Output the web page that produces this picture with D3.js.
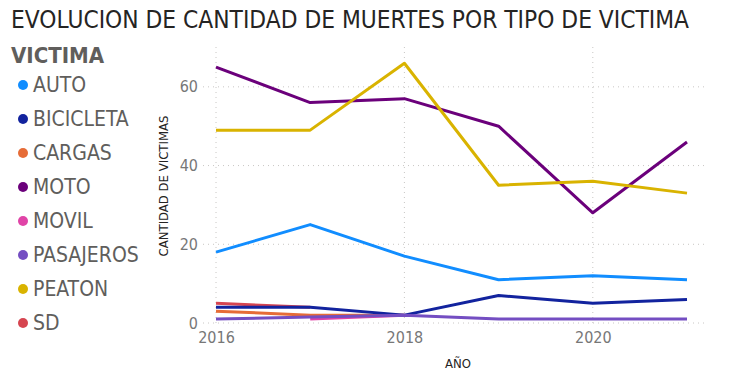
<!DOCTYPE html>
<html>
<head>
<meta charset="utf-8">
<script src="https://cdn.jsdelivr.net/npm/d3@7"></script>
<style>
	body { margin: 0; background: #fff; }
	text { font-family: "DejaVu Sans Condensed", "DejaVu Sans", sans-serif; }
</style>
</head>
<body>
<script>
let years = [2016, 2017, 2018, 2019, 2020, 2021]
let victimas = ["AUTO", "BICICLETA", "CARGAS", "MOTO", "MOVIL", "PASAJEROS", "PEATON", "SD"]
let colors = ["#118DFF", "#12239E", "#E66C37", "#6B007B", "#E044A7", "#744EC2", "#D9B300", "#D64550"]

let auto = [18, 25, 17, 11, 12, 11]
let bicicleta = [4, 4, 2, 7, 5, 6]
let cargas = [3, 2, 2, null, null, null]
let moto = [65, 56, 57, 50, 28, 46]
let movil = [null, 1, 2, null, null, null]
let pasajeros = [1, 1.5, 2, 1, 1, 1]
let peaton = [49, 49, 66, 35, 36, 33]
let sd = [5, 4, null, null, null, null]

let yTicks = [0, 20, 40, 60]
let xTicks = [2016, 2018, 2020]

let seriesValues = [auto, bicicleta, cargas, moto, movil, pasajeros, peaton, sd]
// draw order: small ones behind, as in the picture
let drawOrder = ["MOTO", "PEATON", "AUTO", "MOVIL", "CARGAS", "SD", "BICICLETA", "PASAJEROS"]

let width = 741, height = 376
let svg = d3.select("body").append("svg").attr("width", width).attr("height", height)

let x = d3.scaleLinear().domain([2016, 2021]).range([216, 687])
let y = d3.scaleLinear().domain([0, 70]).range([323, 47.5])

// title
svg.append("text").attr("x", 11).attr("y", 28)
	.attr("font-size", 24).attr("fill", "#252423")
	.attr("textLength", 678).attr("lengthAdjust", "spacingAndGlyphs")
	.text("EVOLUCION DE CANTIDAD DE MUERTES POR TIPO DE VICTIMA")

// legend
svg.append("text").attr("x", 11).attr("y", 63)
	.attr("font-size", 22).attr("font-weight", "bold").attr("fill", "#605E5C")
	.text("VICTIMA")
let leg = svg.selectAll(".leg").data(victimas).enter().append("g")
	.attr("transform", (d, i) => `translate(0, ${85 + i * 34})`)
leg.append("circle").attr("cx", 23).attr("cy", 0).attr("r", 5)
	.attr("fill", (d, i) => colors[i])
leg.append("text").attr("x", 33).attr("y", 7)
	.attr("font-size", 21).attr("fill", "#605E5C").text(d => d)

// grid
svg.selectAll(".hg").data(yTicks).enter().append("line")
	.attr("x1", 203).attr("x2", 705).attr("y1", d => y(d)).attr("y2", d => y(d))
	.attr("stroke", "#c8c6c4").attr("stroke-dasharray", "1,4")
svg.selectAll(".vg").data(xTicks).enter().append("line")
	.attr("x1", d => x(d)).attr("x2", d => x(d)).attr("y1", 47).attr("y2", 323)
	.attr("stroke", "#c8c6c4").attr("stroke-dasharray", "1,4")

// axes
let yAxis = svg.append("g").attr("transform", "translate(200,0)")
	.call(d3.axisLeft(y).tickValues(yTicks).tickSize(0).tickPadding(2))
yAxis.select(".domain").remove()
yAxis.selectAll("text").attr("font-size", 16).attr("fill", "#777")
	.attr("font-family", "DejaVu Sans Condensed")

let xAxis = svg.append("g").attr("transform", "translate(0,330)")
	.call(d3.axisBottom(x).tickValues(xTicks).tickFormat(d3.format("d")).tickSize(0).tickPadding(2))
xAxis.select(".domain").remove()
xAxis.selectAll("text").attr("font-size", 16).attr("fill", "#777")
	.attr("font-family", "DejaVu Sans Condensed")

svg.append("text").attr("transform", "translate(168,186) rotate(-90)")
	.attr("text-anchor", "middle").attr("font-size", 13).attr("fill", "#252423")
	.attr("font-family", "DejaVu Sans")
	.text("CANTIDAD DE VICTIMAS")
svg.append("text").attr("x", 458).attr("y", 368)
	.attr("text-anchor", "middle").attr("font-size", 13).attr("fill", "#252423")
	.text("AÑO")

// lines
let line = d3.line()
	.defined(d => d.v != null)
	.x(d => x(d.year))
	.y(d => y(d.v))

drawOrder.forEach(name => {
	let i = victimas.indexOf(name)
	let pts = years.map((yr, j) => ({year: yr, v: seriesValues[i][j]}))
	svg.append("path").datum(pts)
		.attr("d", line)
		.attr("fill", "none")
		.attr("stroke", colors[i])
		.attr("stroke-width", 3)
		.attr("stroke-linejoin", "round")
})
</script>
</body>
</html>
